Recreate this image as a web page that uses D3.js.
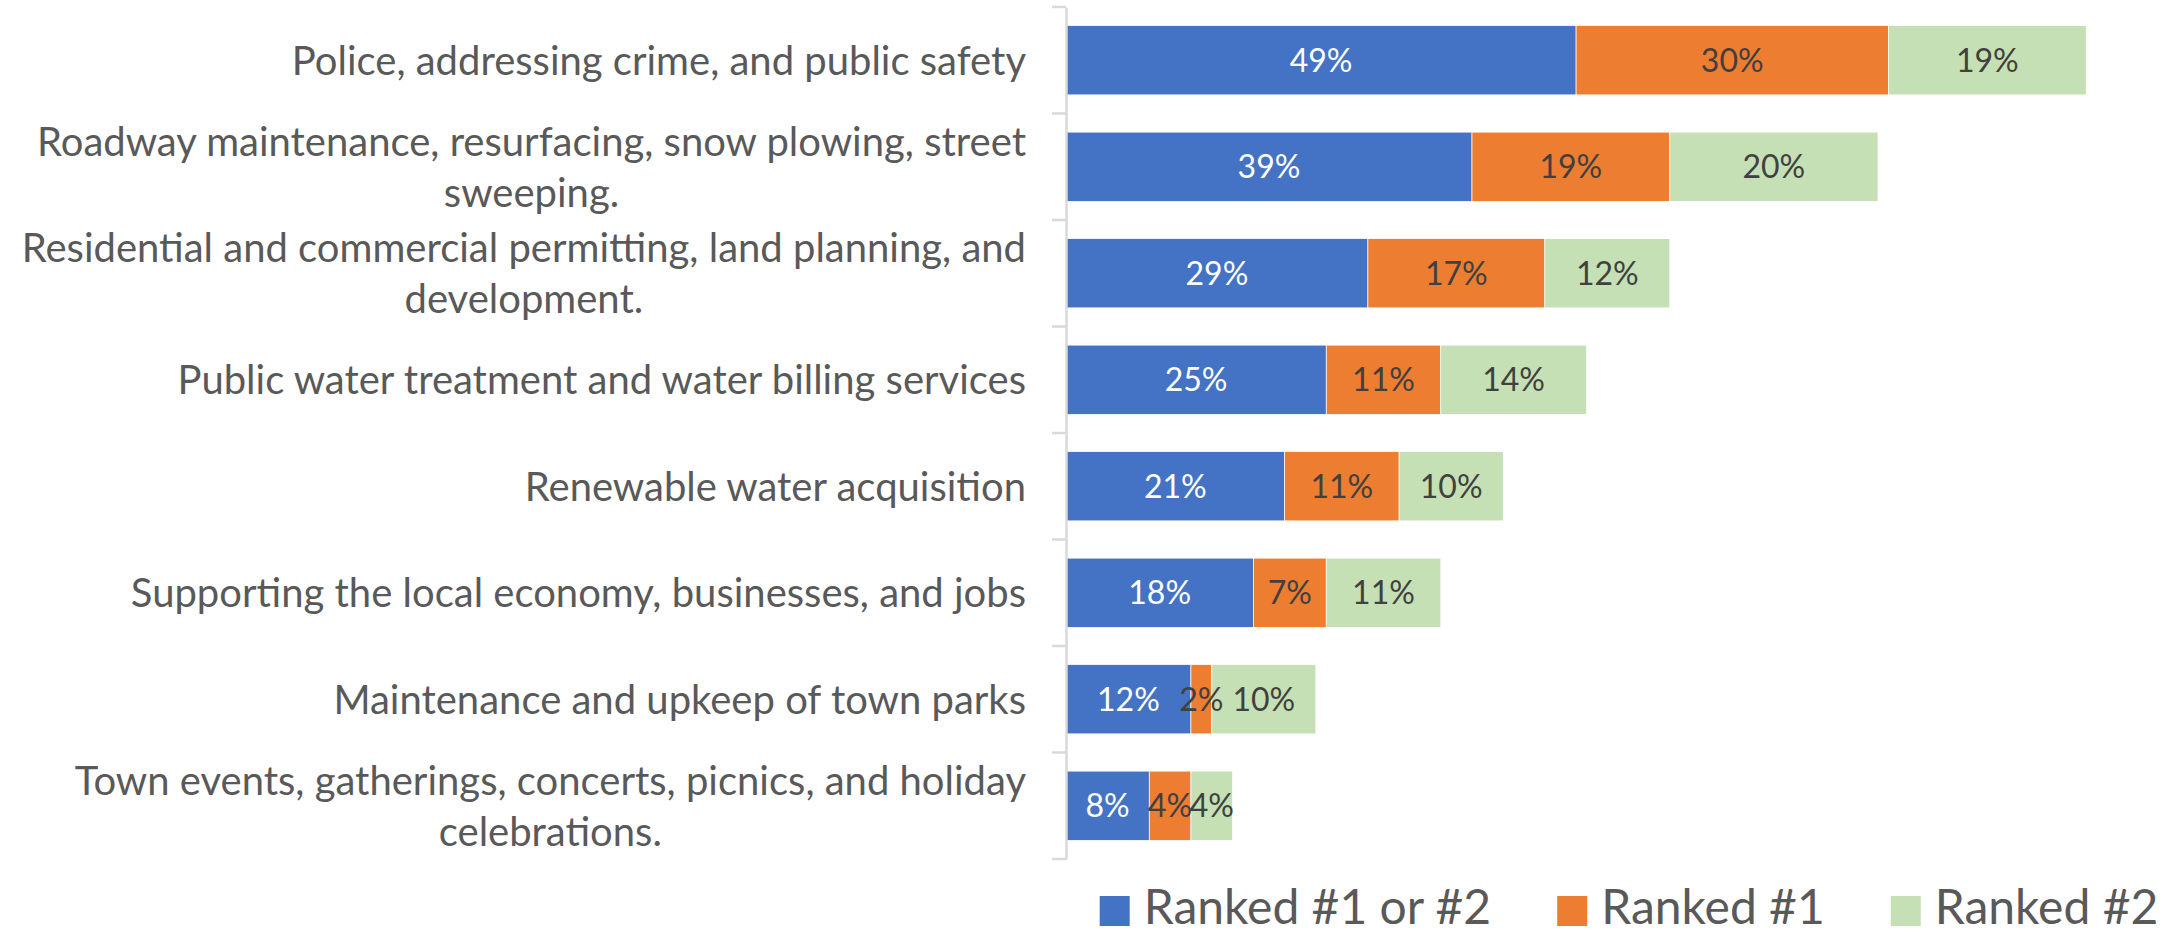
<!DOCTYPE html>
<html>
<head>
<meta charset="utf-8">
<script src="https://cdn.jsdelivr.net/npm/d3@7"></script>
<style>
  html, body { margin: 0; padding: 0; background: #fff; }
  svg { display: block; }
</style>
</head>
<body>
<svg id="chart" width="2179" height="934"></svg>
<script>
const categories = [
  "Police, addressing crime, and public safety",
  "Roadway maintenance, resurfacing, snow plowing, street\nsweeping.",
  "Residential and commercial permitting, land planning, and\ndevelopment.",
  "Public water treatment and water billing services",
  "Renewable water acquisition",
  "Supporting the local economy, businesses, and jobs",
  "Maintenance and upkeep of town parks",
  "Town events, gatherings, concerts, picnics, and holiday\ncelebrations."
];
const seriesNames = ["Ranked #1 or #2", "Ranked #1", "Ranked #2"];
const rankedOneOrTwo = [49, 39, 29, 25, 21, 18, 12, 8];
const rankedOne = [30, 19, 17, 11, 11, 7, 2, 4];
const rankedTwo = [19, 20, 12, 14, 10, 11, 10, 4];
const seriesColors = ["#4472C4", "#ED7D31", "#C5E0B4"];
const labelColors = ["#FFFFFF", "#404040", "#404040"];

const FONT = "Lato, 'Open Sans', sans-serif";
const svg = d3.select("#chart");

const table = categories.map((c, i) => ({
  cat: c,
  [seriesNames[0]]: rankedOneOrTwo[i],
  [seriesNames[1]]: rankedOne[i],
  [seriesNames[2]]: rankedTwo[i]
}));
const stacked = d3.stack().keys(seriesNames)(table);

const x = d3.scaleLinear().domain([0, 100]).range([1066, 2107]);
const y = d3.scaleBand().domain(categories).range([7, 859]).paddingInner(0.35).paddingOuter(0.175);

// bars
const layers = svg.append("g").selectAll("g").data(stacked).join("g")
  .attr("fill", (d, i) => seriesColors[i]);
layers.selectAll("rect").data(d => d).join("rect")
  .attr("x", d => x(d[0]))
  .attr("y", d => y(d.data.cat))
  .attr("width", d => x(d[1]) - x(d[0]))
  .attr("height", y.bandwidth())
  .attr("stroke", "#ffffff")
  .attr("stroke-width", 0.7);

// data labels
stacked.forEach((layer, si) => {
  svg.append("g").selectAll("text").data(layer).join("text")
    .attr("x", d => (x(d[0]) + x(d[1])) / 2)
    .attr("y", d => y(d.data.cat) + y.bandwidth() / 2)
    .attr("dy", "0.36em")
    .attr("text-anchor", "middle")
    .attr("font-family", FONT)
    .attr("font-size", 32)
    .attr("fill", labelColors[si])
    .text(d => (d[1] - d[0]) + "%");
});

// axis
const axis = d3.axisLeft(y).tickSize(0).tickFormat("");
const ag = svg.append("g").attr("transform", `translate(${x(0)},0)`).call(axis);
ag.select(".domain").attr("stroke", "#D9D9D9").attr("stroke-width", 2.5);
ag.selectAll(".tick").remove();
// band boundary ticks
const step = y.step();
const bounds = d3.range(categories.length + 1).map(i => y.range()[0] + i * step);
svg.append("g").selectAll("line").data(bounds).join("line")
  .attr("x1", x(0) - 14).attr("x2", x(0))
  .attr("y1", d => d).attr("y2", d => d)
  .attr("stroke", "#D9D9D9").attr("stroke-width", 2.5);

// category labels
const lineH = 51;
const rightEdge = x(0) - 40;
categories.forEach(c => {
  const lines = c.split("\n");
  const g = svg.append("g");
  const texts = lines.map((ln, li) => g.append("text")
    .attr("font-family", FONT)
    .attr("font-size", 40)
    .attr("fill", "#595959")
    .attr("text-anchor", "middle")
    .attr("y", y(c) + y.bandwidth() / 2 + (li - (lines.length - 1) / 2) * lineH)
    .attr("dy", "0.36em")
    .text(ln));
  const w = d3.max(texts, t => t.node().getComputedTextLength());
  texts.forEach(t => t.attr("x", rightEdge - w / 2));
});

// legend
const legendItems = seriesNames.map((n, i) => ({ name: n, color: seriesColors[i] }));
const lg = svg.append("g");
const sw = 30, gapText = 14, gapItem = 66;
let cx = 0;
const items = lg.selectAll("g").data(legendItems).join("g");
items.append("rect").attr("width", sw).attr("height", sw).attr("y", 896).attr("fill", d => d.color);
items.append("text")
  .attr("x", sw + gapText)
  .attr("y", 924)
  .attr("font-family", FONT)
  .attr("font-size", 48)
  .attr("fill", "#595959")
  .text(d => d.name);
items.each(function () {
  const tw = d3.select(this).select("text").node().getComputedTextLength();
  d3.select(this).attr("transform", `translate(${cx},0)`);
  cx += sw + gapText + tw + gapItem;
});
const totalW = cx - gapItem;
lg.attr("transform", `translate(${1629 - totalW / 2},0)`);
</script>
</body>
</html>
